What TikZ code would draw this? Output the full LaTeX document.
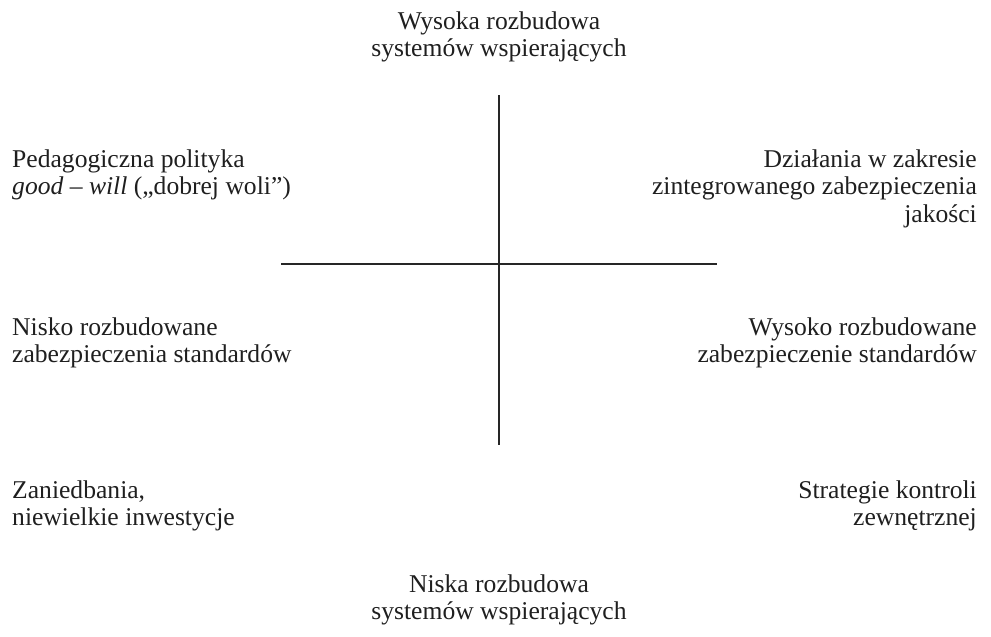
\documentclass[tikz,border=0pt]{standalone}
\usepackage{fontspec}
\setmainfont{Liberation Serif}
\begin{document}
\begin{tikzpicture}[x=1pt,y=-1pt,
  lbl/.style={inner sep=0pt, font=\fontsize{25.6}{27.5}\selectfont, text=black!88},
  axis/.style={line width=1.8pt, draw=black!85}]
\useasboundingbox (0,0) rectangle (991,637);
\node[lbl, align=center, anchor=base] (top) at (499,56.5) {Wysoka rozbudowa\\systemów wspierających};
\node[lbl, align=center, anchor=base] (bot) at (499,619.5) {Niska rozbudowa\\systemów wspierających};
\node[lbl, align=left, anchor=base west] (ul) at (12,194.5) {Pedagogiczna polityka\\\textit{good – will} („dobrej woli”)};
\node[lbl, align=right, anchor=base east] (ur) at (977,222) {Działania w zakresie\\zintegrowanego zabezpieczenia\\jakości};
\node[lbl, align=left, anchor=base west] (ml) at (12,362.5) {Nisko rozbudowane\\zabezpieczenia standardów};
\node[lbl, align=right, anchor=base east] (mr) at (977,362.5) {Wysoko rozbudowane\\zabezpieczenie standardów};
\node[lbl, align=left, anchor=base west] (ll) at (12,525.5) {Zaniedbania,\\niewielkie inwestycje};
\node[lbl, align=right, anchor=base east] (lr) at (977,525.5) {Strategie kontroli\\zewnętrznej};
\coordinate (vt) at (499,95);
\coordinate (vb) at (499,445);
\coordinate (hl) at (281,264);
\coordinate (hr) at (717,264);
\draw[axis] (vt) -- (vb);
\draw[axis] (hl) -- (hr);
\end{tikzpicture}
\end{document}
